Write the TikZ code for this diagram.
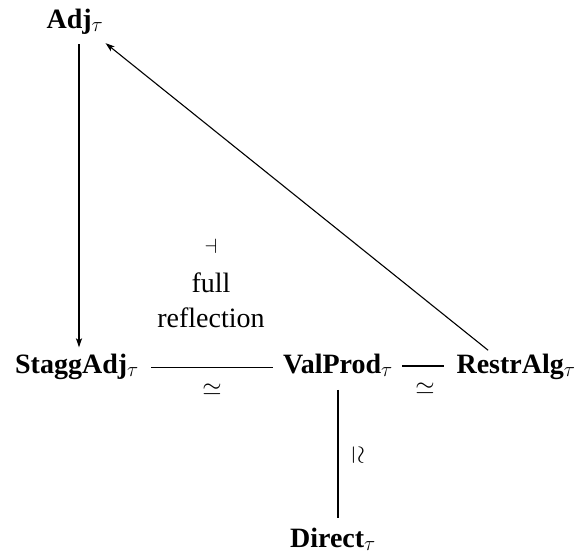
\documentclass[tikz,border=0pt]{standalone}
\usepackage{fontspec}
\setmainfont{Liberation Serif}
\usetikzlibrary{arrows.meta}
\begin{document}
\begin{tikzpicture}[x=1pt,y=-1pt,
  obj/.style={inner sep=0pt, anchor=base, font=\fontsize{28}{34}\selectfont},
  lbl/.style={inner sep=0pt, font=\fontsize{28}{34}\selectfont},
  conn/.style={line width=1.5pt},
  arr/.style={line width=1.5pt, -{Stealth[length=9pt,width=6pt,inset=2pt]}},
  darr/.style={line width=1.1pt, -{Stealth[length=9pt,width=6pt,inset=2pt]}}]
\useasboundingbox (0,0) rectangle (579,558);
\node[obj] (adj) at (75,28) {\textbf{Adj}$_\tau$};
\node[obj] (stagg) at (77,373) {\textbf{StaggAdj}$_\tau$};
\node[obj] (val) at (338,373) {\textbf{ValProd}$_\tau$};
\node[obj] (restr) at (516,373) {\textbf{RestrAlg}$_\tau$};
\node[obj] (direct) at (333,547) {\textbf{Direct}$_\tau$};
\draw[arr, shorten <=10pt, shorten >=6pt] ([xshift=4pt]adj.south) -- ([xshift=4pt]adj.south |- stagg.north);
\draw[conn, shorten <=12pt, shorten >=10pt] ([yshift=-1pt]stagg.east) -- ([yshift=-1pt]stagg.east -| val.west);
\draw[conn, shorten <=9pt, shorten >=12pt] ([yshift=-1pt]val.east) -- ([yshift=-1pt]val.east -| restr.west);
\draw[conn, shorten <=13pt, shorten >=9pt] (val.south) -- (val.south |- direct.north);
\draw[darr, shorten <=5pt] ([xshift=-24pt]restr.north) -- ([shift={(2pt,-9pt)}]adj.south east);
\node[lbl] (s1) at (212,390) {$\simeq$};
\node[lbl] (s2) at (425,389) {$\simeq$};
\node[lbl, rotate=-90] (s3) at (358,455) {$\simeq$};
\node[lbl, font=\fontsize{22}{26}\selectfont] (adjoint) at (211,246) {$\dashv$};
\node[lbl] (full) at (211,283) {full};
\node[lbl] (refl) at (211,318) {reflection};
\end{tikzpicture}
\end{document}
